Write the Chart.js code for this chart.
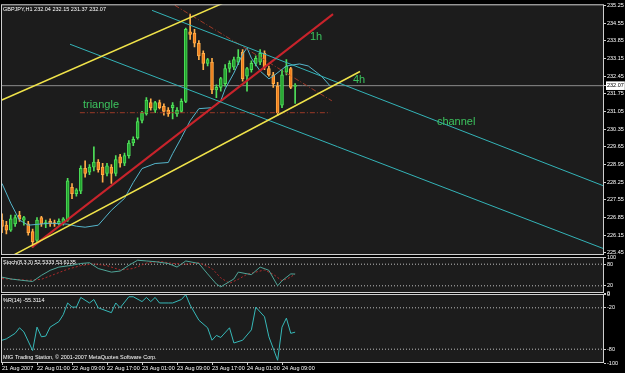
<!DOCTYPE html>
<html>
<head>
<meta charset="utf-8">
<script src="https://cdn.jsdelivr.net/npm/chart.js@4.4.1/dist/chart.umd.min.js"></script>
<style>
  html, body { margin: 0; padding: 0; background: #000; }
  #wrap { position: relative; width: 625px; height: 373px; background: #000; overflow: hidden; }
  #wrap canvas { position: absolute; left: 0; top: 0; }
</style>
</head>
<body>
<div id="wrap">
  <canvas id="main" width="625" height="373"></canvas>
  <canvas id="stoch" width="625" height="373"></canvas>
  <canvas id="wpr" width="625" height="373"></canvas>
</div>
<script>
// GBPJPY H1 candles, bar 0 = 21 Aug 17:00
const open  = [226.75,226.55,226.35,226.60,226.95,226.75,226.60,226.30,225.95,226.85,
               226.60,226.70,226.65,226.60,226.65,226.75,228.05,227.80,227.90,228.80,
               228.65,228.85,229.05,228.85,228.60,228.85,228.60,229.25,229.00,229.30,
               229.80,230.00,230.70,230.95,231.40,231.10,231.40,231.25,231.10,231.20,
               230.95,231.05,231.45,234.20,234.15,233.75,233.35,232.95,233.00,231.90,
               232.00,232.15,232.75,232.80,233.00,233.40,232.45,232.70,232.95,233.00,
               233.35,232.75,232.50,232.05,231.30,232.60,232.75,232.04];
const high  = [227.00,226.70,226.95,226.95,227.10,226.90,226.70,226.40,226.85,226.90,
               226.75,226.80,226.75,226.80,226.85,228.40,228.20,228.00,228.90,229.10,
               228.95,229.65,229.15,229.00,229.00,228.95,229.30,229.35,229.40,229.90,
               230.05,230.80,231.05,231.60,231.55,231.45,231.50,231.35,231.20,231.40,
               231.20,231.55,234.35,234.90,234.30,233.85,233.45,233.15,233.15,232.10,
               232.40,232.90,233.05,233.20,233.50,233.50,232.80,233.05,233.25,233.50,
               233.45,232.85,232.60,232.20,232.70,233.10,232.80,232.15];
const low   = [226.25,226.20,226.30,226.50,226.70,226.55,226.15,225.68,225.90,226.50,
               226.45,226.50,226.50,226.55,226.55,226.70,227.60,227.70,227.80,228.45,
               228.55,228.70,228.65,228.25,228.50,228.20,228.50,228.85,228.90,229.20,
               229.70,229.95,230.60,230.90,231.10,231.00,231.15,230.90,230.85,230.75,
               230.85,231.00,231.40,233.90,233.60,233.10,232.70,232.85,231.75,231.60,
               231.85,232.05,232.60,232.70,232.90,232.25,231.85,232.60,232.85,232.90,
               232.70,232.45,232.00,230.90,231.20,232.50,231.95,231.37];
const close = [226.50,226.35,226.80,226.85,226.80,226.85,226.25,225.90,226.75,226.60,
               226.65,226.60,226.60,226.70,226.80,228.30,227.80,227.95,228.80,228.60,
               228.85,229.05,228.75,228.55,228.90,228.60,229.15,229.00,229.30,229.80,
               229.95,230.65,231.00,231.50,231.20,231.40,231.20,231.05,230.95,231.30,
               231.10,231.45,234.30,234.10,233.75,233.25,232.95,233.10,231.90,232.00,
               232.35,232.75,232.95,233.10,233.20,232.35,232.75,232.95,233.15,233.35,
               232.80,232.50,232.15,231.00,232.50,232.85,232.00,232.07];
const bid = 232.07;

// shifted moving average (bar index, price)
const maIdx = [0,2,4,6,11,15,17,19,22,25,28,30,32,35,38,39,41,43,45,48,50,51,53,55,56,57,59,61,62,65,68,70,73,75];
const maVal = [228.20,227.42,226.75,226.55,226.63,226.59,226.51,226.47,226.55,227.14,
               227.61,228.24,228.79,228.99,229.03,229.38,230.01,230.68,231.16,231.20,
               231.47,231.94,232.57,233.32,233.56,233.16,232.65,232.34,232.45,232.85,
               232.93,232.85,232.45,232.06];

// hand-drawn objects: [bar, price] end points
const yellowUpper  = [[-0.46, 231.47], [54.4, 235.63]];
const yellowLower  = [[1.37, 225.25], [81.83, 232.63]];
const channelUpper = [[34.3, 235.05], [141.3, 227.85]];
const channelLower = [[15.54, 233.71], [141.3, 225.37]];
const trend1h      = [[6.86, 225.68], [75.66, 234.90]];
const triangleBase = [[17.8, 231.00], [75.0, 231.00]];
const triangleTop  = [[39.5, 235.25], [75.4, 231.47]];

const noteText  = ['triangle', '1h', '4h', 'channel'];
const noteBar   = [18.5, 70.4, 80.2, 99.4];
const notePrice = [231.31, 233.99, 232.30, 230.64];

// Stochastic (8,3,3)
const stochIdx  = [0,2,4,7,9,11,13,16,18,20,22,25,27,29,31,33,35,38,40,42,45,47,49,50,53,54,57,59,61,63,64,66,67];
const stochMain = [44,39,36,32,49,63,72,77,82,84,68,58,61,77,91,89,87,82,72,89,82,53,25,17,39,58,51,72,63,20,34,53,52.53];
const signalIdx = [0,3,6,9,12,15,18,21,24,27,30,33,36,39,42,45,48,50,52,54,56,58,60,62,64,66,67];
const signalVal = [40,38,35,38,52,66,76,81,76,64,68,83,88,82,80,84,68,42,27,38,52,58,64,52,34,44,53.61];
const stochLevels = [80, 20];
const stochTicks  = [100, 80, 20, 0];

// Williams %R(14)
const wprIdx = [0,1,3,4,5,7,8,9,10,11,13,14,15,16,17,18,20,21,22,25,26,27,29,30,32,33,34,35,36,38,39,41,42,43,45,47,48,49,50,52,53,55,57,58,60,61,63,64,65,66,67];
const wprVal = [-67,-65,-57,-49,-55,-82,-48,-62,-61,-48,-40,-30,-13,-19,-19,-5,-13,-8,-20,-27,
                -13,-20,-4,-4,-11,-5,-11,-5,-13,-13,-13,-8,-1,-16,-38,-49,-67,-60,-63,-49,
                -71,-67,-52,-19,-33,-62,-96,-48,-35,-57,-55.31];
const wprLevels = [-20, -80];
const wprTicks  = [0, -20, -80, -100];

const priceTicks = [235.25,234.55,233.85,233.15,232.45,231.75,231.05,230.35,229.65,228.95,228.25,227.55,226.85,226.15,225.45];
const timeIdx    = [0,8,16,24,32,40,48,56,64];
const timeLabels = ['21 Aug 2007','22 Aug 01:00','22 Aug 09:00','22 Aug 17:00','23 Aug 01:00','23 Aug 09:00','23 Aug 17:00','24 Aug 01:00','24 Aug 09:00'];

// ---- look ----
const FONT = 'Liberation Sans';
const SMALL = 5.5;
const BG = '#1c1c1c';
const X_MIN = -0.23, X_MAX = 137.6;
const bull = '#23a12f', bullEdge = '#4fe05a', bear = '#ef7d1c', bearEdge = '#ffae4a';

const isBull = i => close[i] >= open[i];
const pts = arr => arr.map(p => ({ x: p[0], y: p[1] }));
const seg = (a, color, width, dash) => ({
    type: 'line', data: pts(a), borderColor: color, borderWidth: width,
    borderDash: dash || [], pointRadius: 0, tension: 0, clip: 0, order: 0
});
const fixWidth = s => { s.width = 21; };

function frame(texts, notes) {
    return {
        id: 'frame',
        beforeDraw(chart) {
            const a = chart.chartArea, c = chart.ctx;
            c.save();
            c.fillStyle = BG;
            c.fillRect(a.left, a.top, a.right - a.left, a.bottom - a.top);
            c.restore();
        },
        afterDraw(chart) {
            const a = chart.chartArea, c = chart.ctx;
            c.save();
            c.strokeStyle = '#cfcfcf';
            c.lineWidth = 1;
            c.strokeRect(a.left + 0.5, a.top + 0.5, a.right - a.left - 1, a.bottom - a.top - 1);
            c.fillStyle = '#ffffff';
            c.font = SMALL + 'px "' + FONT + '"';
            c.textBaseline = 'top';
            texts.forEach(t => c.fillText(t[0], a.left + 2, t[1] >= 0 ? a.top + t[1] : a.bottom + t[1]));
            if (notes) {
                const xs = chart.scales.x, ys = chart.scales.y;
                c.fillStyle = '#3cc35e';
                c.font = '11px "' + FONT + '"';
                c.textBaseline = 'middle';
                noteText.forEach((t, i) => c.fillText(t, xs.getPixelForValue(noteBar[i]), ys.getPixelForValue(notePrice[i])));
            }
            c.restore();
        }
    };
}

const tickFont = { family: FONT, size: SMALL };
const rightAxis = (min, max, ticks, extra) => Object.assign({
    type: 'linear', position: 'right', min: min, max: max, beginAtZero: false,
    afterBuildTicks: s => { s.ticks = ticks.map(v => ({ value: v })); },
    afterFit: fixWidth,
    grid: { drawOnChartArea: false, tickLength: 2, color: '#cfcfcf' },
    border: { display: false },
    ticks: { font: tickFont, color: '#ffffff', padding: 1, autoSkip: false }
}, extra || {});

// ---- main price window ----
new Chart(document.getElementById('main'), {
    type: 'bar',
    data: {
        datasets: [
            seg(yellowUpper, '#f0e34a', 1.5),
            seg(yellowLower, '#f0e34a', 1.5),
            seg(channelUpper, '#34b4b8', 1),
            seg(channelLower, '#34b4b8', 1),
            seg(trend1h, '#c8232b', 2),
            seg(triangleBase, '#9c3a28', 1, [5, 2, 1, 2]),
            seg(triangleTop, '#9c3a28', 1, [5, 2, 1, 2]),
            {
                type: 'line', data: maIdx.map((x, i) => ({ x: x, y: maVal[i] })),
                borderColor: '#55b6cc', borderWidth: 1, pointRadius: 0, tension: 0, clip: 0, order: 1
            },
            {
                type: 'bar', data: open.map((o, i) => ({ x: i, y: [o, close[i]] })),
                backgroundColor: c => isBull(c.dataIndex) ? bull : bear,
                borderColor: c => isBull(c.dataIndex) ? bullEdge : bearEdge,
                borderWidth: 1, borderSkipped: false, barThickness: 3, minBarLength: 1,
                grouped: false, order: 2
            },
            {
                type: 'bar', data: low.map((l, i) => ({ x: i, y: [l, high[i]] })),
                backgroundColor: c => isBull(c.dataIndex) ? bullEdge : bearEdge,
                barThickness: 1, grouped: false, order: 3
            },
            {
                type: 'line', data: [{ x: X_MIN - 1, y: bid }, { x: X_MAX + 1, y: bid }],
                borderColor: '#8c8c8c', borderWidth: 1, pointRadius: 0, clip: 0, order: 4
            }
        ]
    },
    options: {
        responsive: false, animation: false,
        layout: { padding: { left: 1, top: 3, right: 0, bottom: 373 - 255 } },
        plugins: { legend: { display: false }, tooltip: { enabled: false } },
        scales: {
            x: { type: 'linear', display: false, min: X_MIN, max: X_MAX, offset: false },
            y: rightAxis(225.37, 235.29, priceTicks.concat([bid]), {
                ticks: {
                    font: tickFont, padding: 1, autoSkip: false,
                    callback: v => v.toFixed(2),
                    color: c => c.tick && c.tick.value === bid ? '#000000' : '#ffffff',
                    showLabelBackdrop: c => !!(c.tick && c.tick.value === bid),
                    backdropColor: '#ffffff', backdropPadding: 1
                }
            })
        }
    },
    plugins: [frame([['GBPJPY,H1 232.04 232.15 231.37 232.07', 2]], true)]
});

// ---- stochastic window ----
new Chart(document.getElementById('stoch'), {
    type: 'line',
    data: {
        datasets: [
            { data: stochIdx.map((x, i) => ({ x: x, y: stochMain[i] })), borderColor: '#4fa598', borderWidth: 1, pointRadius: 0, tension: 0 },
            { data: signalIdx.map((x, i) => ({ x: x, y: signalVal[i] })), borderColor: '#b02a2a', borderWidth: 1, borderDash: [2, 2], pointRadius: 0, tension: 0 }
        ].concat(stochLevels.map(v => ({
            data: [{ x: X_MIN, y: v }, { x: X_MAX, y: v }], borderColor: '#bdbdbd', borderWidth: 1, borderDash: [1, 2], pointRadius: 0
        })))
    },
    options: {
        responsive: false, animation: false,
        layout: { padding: { left: 1, top: 257, right: 0, bottom: 373 - 293 } },
        plugins: { legend: { display: false }, tooltip: { enabled: false } },
        scales: {
            x: { type: 'linear', display: false, min: X_MIN, max: X_MAX, offset: false },
            y: rightAxis(0, 100, stochTicks)
        }
    },
    plugins: [frame([['Stoch(8,3,3) 52.5333 53.6135', 3]], false)]
});

// ---- Williams %R window ----
new Chart(document.getElementById('wpr'), {
    type: 'line',
    data: {
        datasets: [
            { data: wprIdx.map((x, i) => ({ x: x, y: wprVal[i] })), borderColor: '#36b9b9', borderWidth: 1, pointRadius: 0, tension: 0 }
        ].concat(wprLevels.map(v => ({
            data: [{ x: X_MIN, y: v }, { x: X_MAX, y: v }], borderColor: '#bdbdbd', borderWidth: 1, borderDash: [1, 2], pointRadius: 0
        })))
    },
    options: {
        responsive: false, animation: false,
        layout: { padding: { left: 1, top: 294, right: 0, bottom: 0 } },
        plugins: { legend: { display: false }, tooltip: { enabled: false } },
        scales: {
            x: {
                type: 'linear', position: 'bottom', min: X_MIN, max: X_MAX, offset: false,
                afterBuildTicks: s => { s.ticks = timeIdx.map(v => ({ value: v })); },
                afterFit: s => { s.height = 10; },
                grid: { drawOnChartArea: false, tickLength: 2, color: '#cfcfcf' },
                border: { display: false },
                ticks: {
                    align: 'start', autoSkip: false, maxRotation: 0, padding: 0,
                    font: tickFont, color: '#ffffff',
                    callback: v => timeLabels[timeIdx.indexOf(v)]
                }
            },
            y: rightAxis(-100, 0, wprTicks)
        }
    },
    plugins: [frame([['%R(14) -55.3114', 4], ['MIG Trading Station, \u00a9 2001-2007 MetaQuotes Software Corp.', -8]], false)]
});
</script>
</body>
</html>
